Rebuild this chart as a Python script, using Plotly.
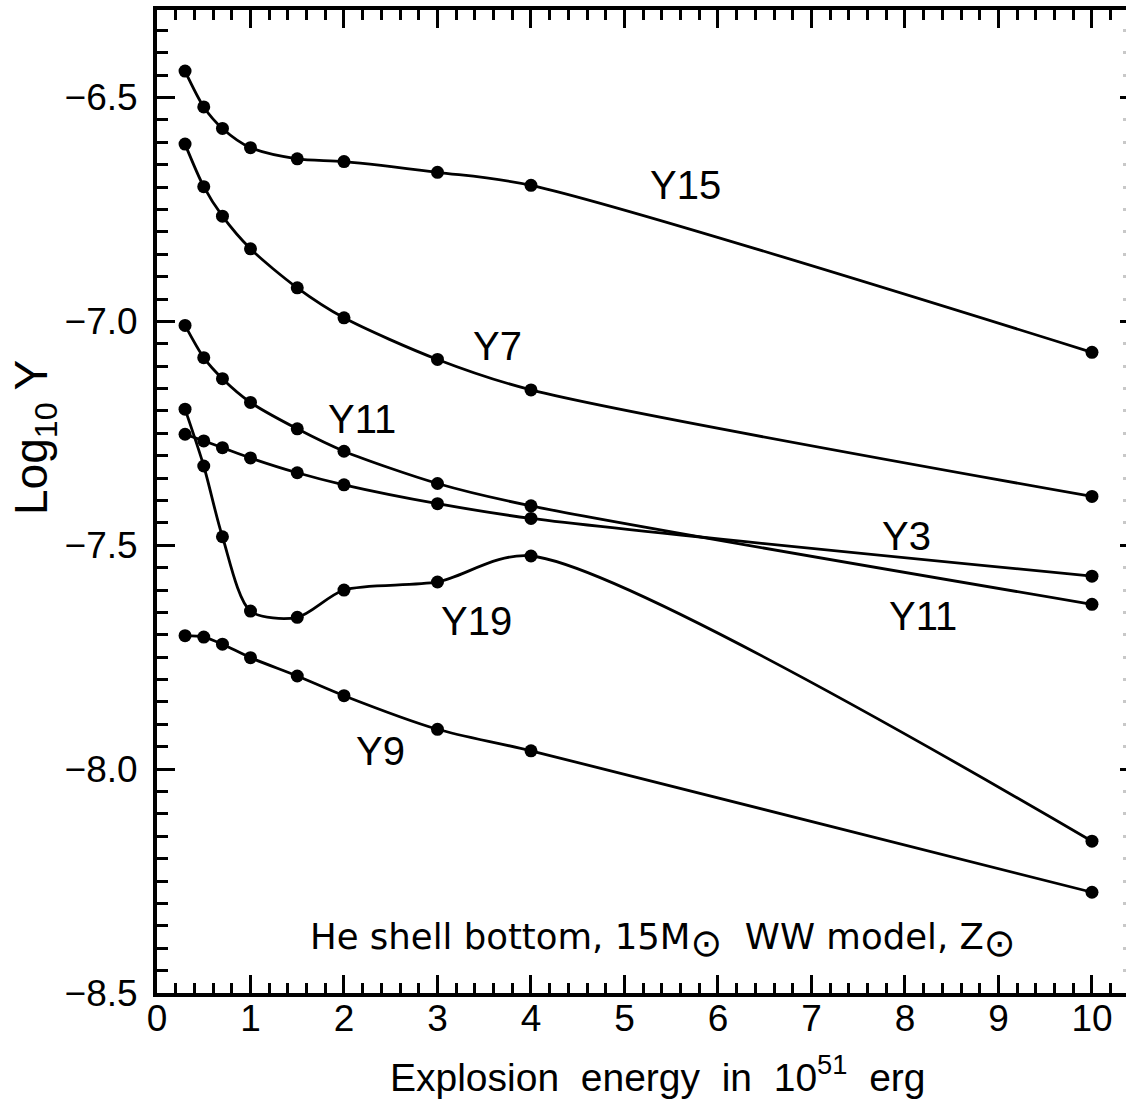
import plotly.graph_objects as go

energy = [0.3, 0.5, 0.7, 1.0, 1.5, 2.0, 3.0, 4.0, 10.0]

y15 = [-6.441, -6.521, -6.569, -6.612, -6.637, -6.643, -6.667, -6.696, -7.069]
y7 = [-6.604, -6.699, -6.765, -6.838, -6.925, -6.992, -7.085, -7.153, -7.391]
y11 = [-7.009, -7.081, -7.128, -7.181, -7.240, -7.290, -7.362, -7.412, -7.632]
y3 = [-7.252, -7.267, -7.282, -7.305, -7.338, -7.365, -7.407, -7.440, -7.569]
y19 = [-7.196, -7.323, -7.481, -7.647, -7.661, -7.600, -7.582, -7.524, -8.161]
y9 = [-7.702, -7.705, -7.721, -7.751, -7.792, -7.836, -7.911, -7.959, -8.275]

series = [y15, y7, y11, y3, y19, y9]

label_text = ["Y15", "Y7", "Y11", "Y3", "Y19", "Y11", "Y9"]
label_x = [5.65, 3.64, 2.19, 8.02, 3.42, 8.19, 2.39]
label_y = [-6.696, -7.054, -7.217, -7.480, -7.670, -7.658, -7.960]

SUN = "<sub><span style='font-size:38px'>⊙</span></sub>"
note_text = "He shell bottom, 15M" + SUN + "  WW model, Z" + SUN
note_x, note_y = 5.41, -8.383

y_title = "Log<sub>10</sub> Y"
x_title = "&nbsp;&nbsp;&nbsp;Explosion  energy  in  10<sup>51</sup>  erg"

x_range = [0, 10.364]
y_range = [-8.5, -6.3045]

FONT = "Liberation Sans"
FONT2 = "DejaVu Sans"

fig = go.Figure()
for s in series:
    fig.add_trace(go.Scatter(
        x=energy, y=s, mode="lines+markers",
        line=dict(color="black", width=2.8, shape="spline", smoothing=0.8),
        marker=dict(color="black", size=13),
        showlegend=False, hoverinfo="skip"))

# invisible helper trace so the right-hand tick axis is drawn
fig.add_trace(go.Scatter(x=[None], y=[None], xaxis="x", yaxis="y2",
                         showlegend=False, hoverinfo="skip"))

for t, x, y in zip(label_text, label_x, label_y):
    fig.add_annotation(x=x, y=y, text=t, showarrow=False,
                       font=dict(family=FONT, size=40, color="black"))

fig.add_annotation(x=note_x, y=note_y, text=note_text, showarrow=False,
                   font=dict(family=FONT2, size=35.5, color="black"))

# y-axis title (placed as a rotated annotation to match its vertical position)
fig.add_annotation(xref="paper", yref="paper", x=0, y=0.5646, xshift=-122,
                   xanchor="center", yanchor="middle", textangle=-90,
                   text=y_title, showarrow=False,
                   font=dict(family=FONT, size=46, color="black"))

tickfont = dict(family=FONT, size=37, color="black")

fig.update_layout(
    width=1126, height=1103,
    margin=dict(l=157, r=0, t=10, b=110),
    plot_bgcolor="white", paper_bgcolor="white",
    xaxis=dict(
        range=x_range, dtick=1, tick0=0, side="bottom",
        showline=True, linecolor="black", linewidth=4, mirror="ticks",
        ticks="inside", ticklen=18, tickwidth=3, tickcolor="black",
        minor=dict(dtick=0.2, tick0=0, ticks="inside", ticklen=10, tickwidth=3,
                   tickcolor="black", showgrid=False),
        showgrid=False, zeroline=False, tickfont=tickfont,
        ticklabelstandoff=-10,
        title=dict(text=x_title,
                   font=dict(family=FONT, size=39, color="black"), standoff=26),
    ),
    yaxis=dict(
        range=y_range, dtick=0.5, tick0=-8.5, side="left", tickformat=".1f",
        showline=True, linecolor="black", linewidth=4, mirror=False,
        ticks="inside", ticklen=18, tickwidth=3, tickcolor="black",
        minor=dict(dtick=0.05, tick0=-8.5, ticks="inside", ticklen=11, tickwidth=3,
                   tickcolor="black", showgrid=False),
        showgrid=False, zeroline=False, tickfont=tickfont,
        ticklabelstandoff=8,
    ),
    yaxis2=dict(
        range=y_range, dtick=0.5, tick0=-8.5, overlaying="y", side="right", anchor="x",
        showline=False, ticks="inside", ticklen=6, tickwidth=3, tickcolor="black",
        minor=dict(dtick=0.05, tick0=-8.5, ticks="inside", ticklen=3, tickwidth=3,
                   tickcolor="#c8c8c8", showgrid=False),
        showticklabels=False, showgrid=False, zeroline=False,
    ),
)

fig.write_html("out.html")
